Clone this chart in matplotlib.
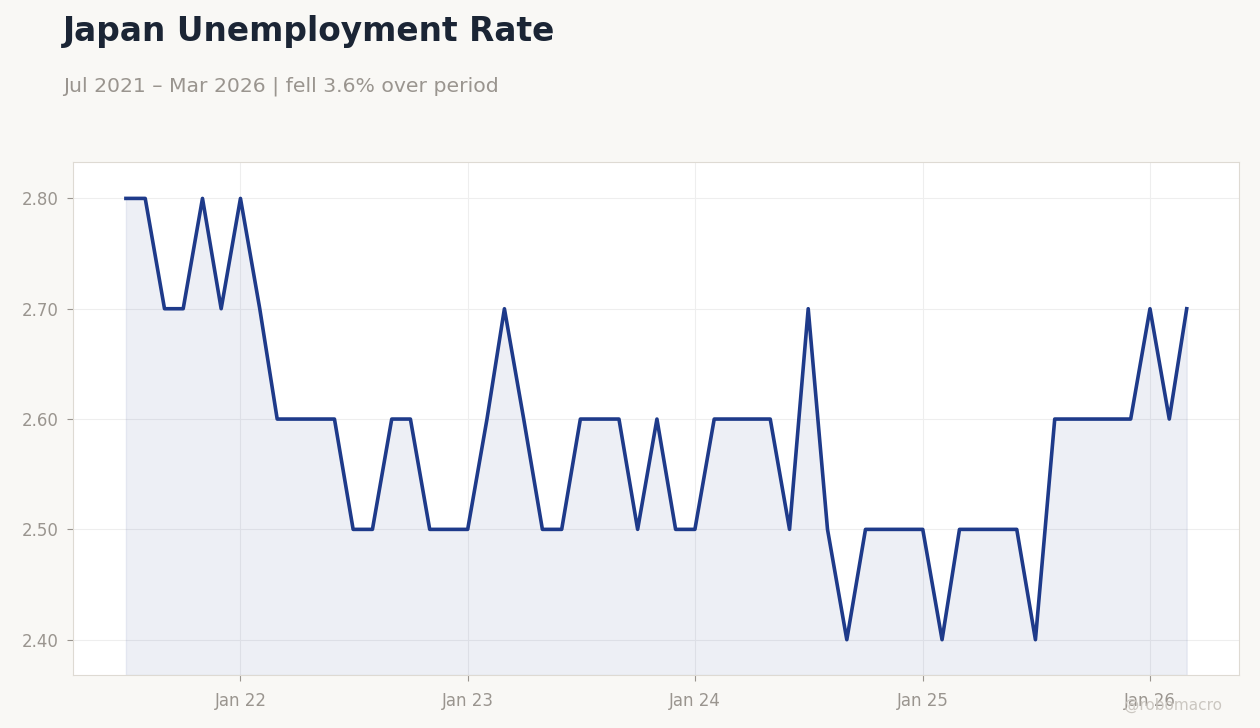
import matplotlib.pyplot as plt
import matplotlib.dates as mdates
import pandas as pd

months = pd.date_range("2021-07-01", "2026-03-01", freq="MS")
rate = [2.8, 2.8, 2.7, 2.7, 2.8, 2.7,
        2.8, 2.7, 2.6, 2.6, 2.6, 2.6, 2.5, 2.5, 2.6, 2.6, 2.5, 2.5,
        2.5, 2.6, 2.7, 2.6, 2.5, 2.5, 2.6, 2.6, 2.6, 2.5, 2.6, 2.5,
        2.5, 2.6, 2.6, 2.6, 2.6, 2.5, 2.7, 2.5, 2.4, 2.5, 2.5, 2.5,
        2.5, 2.4, 2.5, 2.5, 2.5, 2.5, 2.4, 2.6, 2.6, 2.6, 2.6, 2.6,
        2.7, 2.6, 2.7]
yticks = [2.4, 2.5, 2.6, 2.7, 2.8]

bg = "#f9f8f5"
line_col = "#1e3a8a"
grey = "#9a958f"

fig = plt.figure(figsize=(12.6, 7.28), dpi=100, facecolor=bg)
ax = fig.add_axes([73 / 1260, 1 - 675 / 728, (1239 - 73) / 1260, (675 - 162) / 728])
ax.set_facecolor("white")

ymin = 2.368
ax.plot(months, rate, color=line_col, lw=2.6, zorder=3)
ax.fill_between(months, rate, ymin, color=line_col, alpha=0.08, lw=1, zorder=2)

ax.set_ylim(ymin, 2.833)
ax.set_xlim(months[0] - pd.Timedelta(days=85), months[-1] + pd.Timedelta(days=84))
ax.set_yticks(yticks)
ax.yaxis.set_major_formatter(plt.FuncFormatter(lambda v, p: f"{v:.2f}"))
ax.xaxis.set_major_locator(mdates.YearLocator(month=1))
ax.xaxis.set_major_formatter(mdates.DateFormatter("Jan %y"))

ax.grid(True, color="#eeeeee", lw=0.8, zorder=0)
for s in ax.spines.values():
    s.set_color("#dedad3")
ax.tick_params(colors=grey, labelsize=12, length=4, pad=6)
ax.tick_params(axis="x", pad=8)

fig.text(63 / 1260, 1 - 31 / 728, "Japan Unemployment Rate", fontsize=23.7, fontweight="bold",
         color="#1b2535", va="center")
fig.text(63 / 1260, 1 - 86 / 728, "Jul 2021 \u2013 Mar 2026 | fell 3.6% over period", fontsize=14.7,
         color=grey, va="center")
fig.text(1222 / 1260, 1 - 705 / 728, "@robomacro", fontsize=11, color="#cbc7c1", ha="right", va="center")

fig.savefig("out.png", dpi=100, facecolor=bg)
